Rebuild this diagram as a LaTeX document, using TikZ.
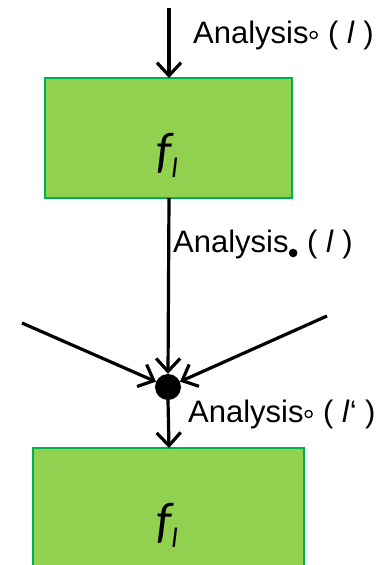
\documentclass[tikz,border=0pt]{standalone}
\usepackage{fontspec}
\setmainfont{Liberation Sans}
\newfontfamily\carlito{Carlito}
\usetikzlibrary{arrows.meta}
\definecolor{boxfill}{HTML}{92D050}
\definecolor{boxline}{HTML}{00B050}
\tikzset{
  fbox/.style={draw=boxline,fill=boxfill,line width=1.8pt},
  conn/.style={line width=3.2pt,-{Straight Barb[length=13pt,width=24pt,line width=3.2pt]}},
  lbl/.style={anchor=base west,inner sep=0pt,font=\fontsize{31}{36}\selectfont},
  flabel/.style={anchor=base,inner sep=0pt,font=\carlito\itshape\fontsize{50}{56}\selectfont}
}
\newcommand{\ringmark}{\tikz[baseline=0pt,x=1pt,y=1pt]{\useasboundingbox (0,0) rectangle (11,1);\draw[line width=1.3pt] (5,8) circle (3.6);}}
\newcommand{\dotmark}{\tikz[baseline=0pt,x=1pt,y=1pt]{\useasboundingbox (0,0) rectangle (10,1);\fill (4.5,-1) circle (4.3);}}
\newcommand{\fl}{f\raisebox{-10pt}{\fontsize{28}{28}\selectfont l}}
\begin{document}
\begin{tikzpicture}[x=1pt,y=-1pt]
\useasboundingbox (0,0) rectangle (382,565);
% boxes
\path[fbox] (45,78) rectangle (292,198);
\path[fbox] (33,448) rectangle (304,575);
\node[flabel] (f1) at (167,167) {\fl};
\node[flabel] (f2) at (167,537) {\fl};
\coordinate (b1top) at (169,78);
\coordinate (b1bot) at (169,198);
\coordinate (b2top) at (169,448);
\coordinate (src) at (169,8);
\coordinate (L) at (22,323);
\coordinate (R) at (327,316);
\node[circle,fill=black,inner sep=0pt,minimum size=26pt] (dot) at (168,387) {};
% connectors
\draw[conn] (src) -- (b1top);
\draw[conn] (b1bot) -- (dot.north);
\draw[conn] (L) -- (dot);
\draw[conn] (R) -- (dot);
\draw[conn] (dot.south) -- (b2top);
% labels
\node[lbl] (l1) at (193,43) {Analysis\ringmark\ ( \textit{l} )};
\node[lbl] (l2) at (173,252) {Analysis\dotmark\ ( \textit{l} )};
\node[lbl] (l3) at (188,422) {Analysis\ringmark\ ( \textit{l}‘ )};
\end{tikzpicture}
\end{document}
